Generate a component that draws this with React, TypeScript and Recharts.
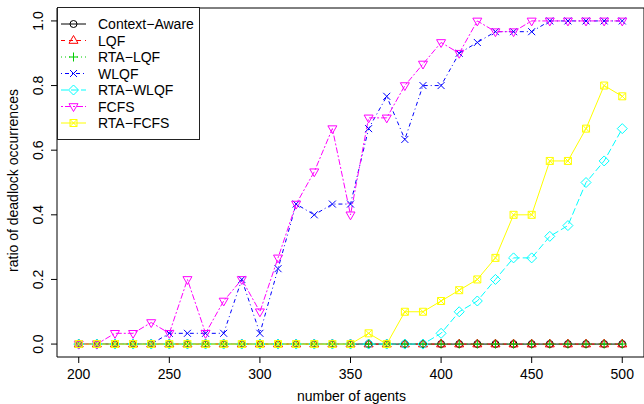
import React from "react";
import { LineChart, Line, XAxis, YAxis, ReferenceLine, Legend } from "recharts";

const FONT = "'Liberation Sans', Arial, Helvetica, sans-serif";

const agents = [200, 210, 220, 230, 240, 250, 260, 270, 280, 290, 300, 310, 320, 330, 340, 350, 360, 370, 380, 390, 400, 410, 420, 430, 440, 450, 460, 470, 480, 490, 500];
const contextAware = [0, 0, 0, 0, 0, 0, 0, 0, 0, 0, 0, 0, 0, 0, 0, 0, 0, 0, 0, 0, 0, 0, 0, 0, 0, 0, 0, 0, 0, 0, 0];
const lqf = [0, 0, 0, 0, 0, 0, 0, 0, 0, 0, 0, 0, 0, 0, 0, 0, 0, 0, 0, 0, 0, 0, 0, 0, 0, 0, 0, 0, 0, 0, 0];
const rtaLqf = [0, 0, 0, 0, 0, 0, 0, 0, 0, 0, 0, 0, 0, 0, 0, 0, 0, 0, 0, 0, 0, 0, 0, 0, 0, 0, 0, 0, 0, 0, 0];
const wlqf = [0, 0, 0, 0, 0, 0.0333, 0.0333, 0.0333, 0.0333, 0.2, 0.0333, 0.2333, 0.4333, 0.4, 0.4333, 0.4333, 0.6667, 0.7667, 0.6333, 0.8, 0.8, 0.9, 0.9333, 0.9667, 0.9667, 0.9667, 1, 1, 1, 1, 1];
const rtaWlqf = [0, 0, 0, 0, 0, 0, 0, 0, 0, 0, 0, 0, 0, 0, 0, 0, 0, 0, 0, 0, 0.0333, 0.1, 0.1333, 0.2, 0.2667, 0.2667, 0.3333, 0.3667, 0.5, 0.5667, 0.6667];
const fcfs = [0, 0, 0.0333, 0.0333, 0.0667, 0.0333, 0.2, 0.0333, 0.1333, 0.2, 0.1, 0.2667, 0.4333, 0.5333, 0.6667, 0.4, 0.7, 0.7, 0.8, 0.8667, 0.9333, 0.9, 1, 0.9667, 0.9667, 1, 1, 1, 1, 1, 1];
const rtaFcfs = [0, 0, 0, 0, 0, 0, 0, 0, 0, 0, 0, 0, 0, 0, 0, 0, 0.0333, 0, 0.1, 0.1, 0.1333, 0.1667, 0.2, 0.2667, 0.4, 0.4, 0.5667, 0.5667, 0.6667, 0.8, 0.7667];

const xTicks = [200, 250, 300, 350, 400, 450, 500];
const yTicks = [0, 0.2, 0.4, 0.6, 0.8, 1.0];

type Shape = "circle" | "triUp" | "plus" | "cross" | "diamond" | "triDown" | "boxX";

// one entry per series, drawn in this order (last on top)
const series: { key: string; name: string; color: string; dash?: string; shape: Shape }[] = [
  { key: "contextAware", name: "Context−Aware", color: "#000000", shape: "circle" },
  { key: "lqf", name: "LQF", color: "#ff0000", dash: "4 4", shape: "triUp" },
  { key: "rtaLqf", name: "RTA−LQF", color: "#00cd00", dash: "1 3", shape: "plus" },
  { key: "wlqf", name: "WLQF", color: "#0000ff", dash: "1 3 4 3", shape: "cross" },
  { key: "rtaWlqf", name: "RTA−WLQF", color: "#00ffff", dash: "7 3", shape: "diamond" },
  { key: "fcfs", name: "FCFS", color: "#ff00ff", dash: "2 2 6 2", shape: "triDown" },
  { key: "rtaFcfs", name: "RTA−FCFS", color: "#ffff00", shape: "boxX" },
];

const data = agents.map((a, i) => ({
  agents: a,
  contextAware: contextAware[i],
  lqf: lqf[i],
  rtaLqf: rtaLqf[i],
  wlqf: wlqf[i],
  rtaWlqf: rtaWlqf[i],
  fcfs: fcfs[i],
  rtaFcfs: rtaFcfs[i],
}));

function Mark({ shape, cx, cy, color }: { shape: Shape; cx: number; cy: number; color: string }) {
  const s = { fill: "none", stroke: color, strokeWidth: 1, strokeDasharray: "none" };
  switch (shape) {
    case "circle":
      return <circle cx={cx} cy={cy} r={3.5} {...s} />;
    case "triUp":
      return <path d={`M${cx - 4.5},${cy + 2.8} L${cx + 4.5},${cy + 2.8} L${cx},${cy - 5} Z`} {...s} />;
    case "plus":
      return <path d={`M${cx - 4.5},${cy} H${cx + 4.5} M${cx},${cy - 4.5} V${cy + 4.5}`} {...s} />;
    case "cross":
      return <path d={`M${cx - 3.5},${cy - 3.5} L${cx + 3.5},${cy + 3.5} M${cx - 3.5},${cy + 3.5} L${cx + 3.5},${cy - 3.5}`} {...s} />;
    case "diamond":
      return <path d={`M${cx},${cy - 5} L${cx + 5},${cy} L${cx},${cy + 5} L${cx - 5},${cy} Z`} {...s} />;
    case "triDown":
      return <path d={`M${cx - 4.5},${cy - 2.8} L${cx + 4.5},${cy - 2.8} L${cx},${cy + 5} Z`} {...s} />;
    case "boxX":
      return (
        <path
          d={`M${cx - 3.5},${cy - 3.5} H${cx + 3.5} V${cy + 3.5} H${cx - 3.5} Z M${cx - 3.5},${cy - 3.5} L${cx + 3.5},${cy + 3.5} M${cx - 3.5},${cy + 3.5} L${cx + 3.5},${cy - 3.5}`}
          {...s}
        />
      );
  }
  return null;
}

const dotFor = (shape: Shape, color: string) => (p: any) =>
  <Mark key={`${shape}-${p.index}`} shape={shape} cx={p.cx} cy={p.cy} color={color} />;

function LegendBox() {
  return (
    <svg width={143} height={133} style={{ display: "block" }}>
      <rect x={0.5} y={0.5} width={142} height={132} fill="#fff" stroke="#222" strokeWidth={1} />
      {series.map((s, i) => {
        const y = 17 + i * 16.5;
        return (
          <g key={s.key}>
            <line x1={4} x2={29} y1={y} y2={y} stroke={s.color} strokeWidth={1} strokeDasharray={s.dash} />
            <Mark shape={s.shape} cx={16.5} cy={y} color={s.color} />
            <text x={41} y={y + 5} fontSize={14} fontFamily={FONT} fill="#000">{s.name}</text>
          </g>
        );
      })}
    </svg>
  );
}

const XTick = ({ x, y, payload }: any) => (
  <text x={x} y={y + 14} textAnchor="middle" fontSize={14} fontFamily={FONT} fill="#000">
    {payload.value}
  </text>
);

const YTick = ({ x, y, payload }: any) => (
  <text x={x - 6} y={y} transform={`rotate(-90, ${x - 6}, ${y})`} textAnchor="middle" fontSize={14} fontFamily={FONT} fill="#000">
    {Number(payload.value).toFixed(1)}
  </text>
);

export default function App() {
  return (
    <div style={{ position: "absolute", left: 0, top: 0, width: 644, height: 404, background: "#fff" }}>
      <LineChart width={644} height={404} data={data} margin={{ top: 8, right: 0, bottom: 0, left: 0 }}>
        <XAxis
          dataKey="agents"
          type="number"
          domain={[188, 512]}
          ticks={xTicks}
          tickSize={6}
          axisLine={{ stroke: "#000" }}
          tickLine={{ stroke: "#000" }}
          tick={<XTick />}
          height={47}
          allowDataOverflow
          label={{
            content: ({ viewBox }: any) => (
              <text x={viewBox.x + viewBox.width / 2 + 1} y={viewBox.y + 44} textAnchor="middle" fontSize={14} fontFamily={FONT} fill="#000">
                number of agents
              </text>
            ),
          }}
        />
        <YAxis
          type="number"
          domain={[-0.04, 1.04]}
          ticks={yTicks}
          tickSize={6}
          width={57}
          axisLine={{ stroke: "#000" }}
          tickLine={{ stroke: "#000" }}
          tick={<YTick />}
          allowDataOverflow
          label={{
            content: ({ viewBox }: any) => {
              const cy = viewBox.y + viewBox.height / 2 - 2;
              return (
                <text x={18} y={cy} transform={`rotate(-90, 18, ${cy})`} textAnchor="middle" fontSize={14} fontFamily={FONT} fill="#000">
                  ratio of deadlock occurrences
                </text>
              );
            },
          }}
        />
        <ReferenceLine y={1.04} stroke="#000" strokeWidth={1} />
        <ReferenceLine x={512} stroke="#000" strokeWidth={1} />
        {series.map((s) => (
          <Line
            key={s.key}
            type="linear"
            dataKey={s.key}
            name={s.name}
            stroke={s.color}
            strokeWidth={1}
            strokeDasharray={s.dash}
            dot={dotFor(s.shape, s.color)}
            activeDot={false}
            isAnimationActive={false}
          />
        ))}
        <Legend
          layout="vertical"
          align="center"
          verticalAlign="middle"
          wrapperStyle={{ position: "absolute", left: 57, top: 7, width: 143, height: 133 }}
          content={() => <LegendBox />}
        />
      </LineChart>
    </div>
  );
}
